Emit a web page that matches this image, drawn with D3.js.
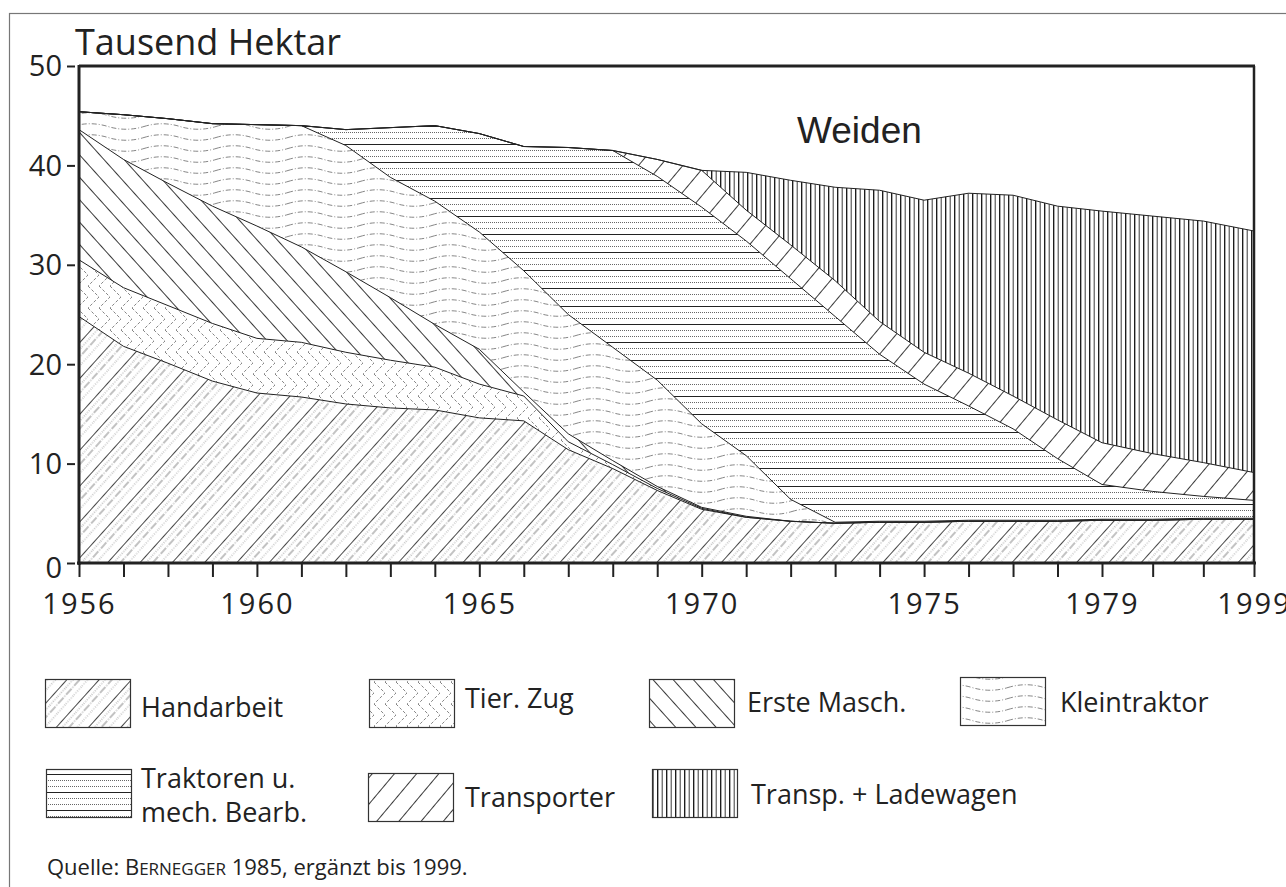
<!DOCTYPE html>
<html>
<head>
<meta charset="utf-8">
<script src="https://cdn.jsdelivr.net/npm/d3@7"></script>
<style>
  body { margin: 0; background: #fff; }
  svg { display: block; }
  text { font-family: "Open Sans", sans-serif; fill: #222; }
</style>
</head>
<body>
<script>
// periods along the x axis: yearly 1956-1979, two unlabeled steps, then 1999
var tickLabels = ["1956","","","","1960","","","","","1965","","","","","1970",
                  "","","","","1975","","","","1979","","","1999"];
var yTicks = [0, 10, 20, 30, 40, 50];

var keys = ["Handarbeit", "Tier. Zug", "Erste Masch.", "Kleintraktor",
            "Traktoren u. mech. Bearb.", "Transporter", "Transp. + Ladewagen"];

// thousand hectares
var handarbeit   = [24.8,21.8,20.1,18.3,17.1,16.7,16.0,15.6,15.4,14.6,14.3,11.4,9.5,7.3,5.4,4.6,4.2,4.0,4.1,4.1,4.2,4.2,4.2,4.3,4.3,4.4,4.4];
var tierZug      = [5.7,5.9,5.8,5.8,5.5,5.5,5.2,4.8,4.3,3.4,2.5,0.8,0.4,0.2,0.1,0,0,0,0,0,0,0,0,0,0,0,0];
var ersteMasch   = [13.1,12.9,12.3,11.8,11.3,9.6,8.1,6.3,4.3,3.5,0.4,0.8,0.4,0.2,0.1,0.1,0,0,0,0,0,0,0,0,0,0,0];
var kleintraktor = [1.8,4.5,6.5,8.3,10.2,12.2,12.7,12.1,12.4,11.8,12.2,12.0,11.4,10.7,8.4,6.1,2.2,0.1,0.1,0.1,0.1,0.1,0.1,0.1,0.1,0.1,0.1];
var traktoren    = [0,0,0,0,0,0,1.6,5.0,7.6,9.9,12.5,16.8,19.8,20.5,21.8,21.6,22.2,20.7,16.8,13.8,11.5,9.2,6.2,3.5,2.8,2.2,1.8];
var transporter  = [0,0,0,0,0,0,0,0,0,0,0,0,0,1.7,3.7,3.1,3.4,3.6,3.3,3.2,3.3,3.3,3.9,4.2,3.8,3.4,2.8];
var ladewagen    = [0,0,0,0,0,0,0,0,0,0,0,0,0,0,0,3.8,6.5,9.4,13.2,15.3,18.1,20.2,21.5,23.3,23.9,24.3,24.3];

var seriesValues = [handarbeit, tierZug, ersteMasch, kleintraktor, traktoren, transporter, ladewagen];
var patternIds = ["p-hand", "p-tier", "p-erste", "p-klein", "p-trak", "p-trans", "p-lade"];

var rows = tickLabels.map(function(l, i) {
  var r = { i: i };
  keys.forEach(function(k, j) { r[k] = seriesValues[j][i]; });
  return r;
});

var width = 1286, height = 887;
var svg = d3.select("body").append("svg")
    .attr("width", width)
    .attr("height", height);

// outer frame
svg.append("rect")
    .attr("x", 9.5).attr("y", 13.5)
    .attr("width", 1300).attr("height", 900)
    .attr("fill", "none")
    .attr("stroke", "#777")
    .attr("stroke-width", 1.2);

var x = d3.scaleLinear().domain([0, 23, 26]).range([79, 1102, 1254]);
var y = d3.scaleLinear().domain([0, 50]).range([563, 66]);

// ---- hatch patterns
var defs = svg.append("defs");

function pat(id, w, h, rot) {
  var p = defs.append("pattern")
      .attr("id", id)
      .attr("patternUnits", "userSpaceOnUse")
      .attr("width", w)
      .attr("height", h);
  if (rot) p.attr("patternTransform", "rotate(" + rot + ")");
  return p;
}
function vline(p, xx, h, col, sw, dash) {
  p.append("line").attr("x1", xx).attr("x2", xx).attr("y1", 0).attr("y2", h)
      .attr("stroke", col).attr("stroke-width", sw)
      .attr("stroke-dasharray", dash || null);
}
function hline(p, yy, w, col, sw, dash) {
  p.append("line").attr("x1", 0).attr("x2", w).attr("y1", yy).attr("y2", yy)
      .attr("stroke", col).attr("stroke-width", sw)
      .attr("stroke-dasharray", dash || null);
}

var ph = pat("p-hand", 24, 12, 42);
vline(ph, 0.5, 12, "#333", 0.9);
vline(ph, 5, 12, "#777", 0.8, "1,1.5");
vline(ph, 10, 12, "#666", 0.8, "4,1.5,1,1.5");
vline(ph, 16, 12, "#888", 0.8, "1,1.5");

// herringbone for animal traction
var pt = pat("p-tier", 22, 22, 0);
pt.append("path").attr("d", "M0,0L11,11L0,22M11,0L22,11L11,22")
    .attr("fill", "none").attr("stroke", "#666").attr("stroke-width", 0.8)
    .attr("stroke-dasharray", "3,2");

var pe = pat("p-erste", 15, 10, -42);
vline(pe, 0.5, 10, "#222", 0.9);

var pk = pat("p-klein", 72, 11, 0);
pk.append("path").attr("d", "M0,5.5Q18,0 36,5.5T72,5.5")
    .attr("fill", "none").attr("stroke", "#666").attr("stroke-width", 0.8)
    .attr("stroke-dasharray", "5,2,1,2");

var pr = pat("p-trak", 10, 18, 0);
hline(pr, 0.5, 10, "#222", 1);
hline(pr, 6.5, 10, "#555", 0.9, "1,1");
hline(pr, 12.5, 10, "#555", 0.9, "1,1");

var pp = pat("p-trans", 17, 10, 40);
vline(pp, 0.5, 10, "#222", 0.9);

var pl = pat("p-lade", 9, 10, 0);
vline(pl, 0.7, 10, "#111", 1.3);
vline(pl, 5.2, 10, "#222", 0.9);

// ---- stacked areas
var stack = d3.stack().keys(keys)(rows);

var area = d3.area()
    .x(function(d) { return x(d.data.i); })
    .y0(function(d) { return y(d[0]); })
    .y1(function(d) { return y(d[1]); });

var line = d3.line()
    .x(function(d) { return x(d.data.i); })
    .y(function(d) { return y(d[1]); });

svg.append("g").selectAll("path")
  .data(stack)
  .enter().append("path")
    .attr("d", area)
    .attr("fill", function(d, i) { return "url(#" + patternIds[i] + ")"; });

svg.append("g").selectAll("path")
  .data(stack)
  .enter().append("path")
    .attr("d", line)
    .attr("fill", "none")
    .attr("stroke", "#222")
    .attr("stroke-width", 1);

// ---- frame of the plot
svg.append("line").attr("x1", 79).attr("x2", 1255).attr("y1", 66).attr("y2", 66)
    .attr("stroke", "#222").attr("stroke-width", 3);
svg.append("line").attr("x1", 1254).attr("x2", 1254).attr("y1", 66).attr("y2", 564)
    .attr("stroke", "#222").attr("stroke-width", 2.5);
svg.append("line").attr("x1", 79).attr("x2", 79).attr("y1", 65).attr("y2", 565)
    .attr("stroke", "#222").attr("stroke-width", 3);
svg.append("line").attr("x1", 77).attr("x2", 1256).attr("y1", 563).attr("y2", 563)
    .attr("stroke", "#222").attr("stroke-width", 3);

// ---- axes
var yAxis = svg.append("g")
    .attr("transform", "translate(75,0)")
    .call(d3.axisLeft(y).tickValues(yTicks).tickSize(8).tickPadding(5).tickSizeOuter(0));
yAxis.select(".domain").remove();
yAxis.selectAll(".tick line").attr("stroke", "#222").attr("stroke-width", 2);
yAxis.selectAll(".tick text")
    .style("font-family", "'Open Sans', sans-serif")
    .style("font-size", "29px")
    .attr("fill", "#222")
    .attr("dy", function(d) { return d === 0 ? "0.5em" : "0.34em"; });

var xAxis = svg.append("g")
    .attr("transform", "translate(0,564)")
    .call(d3.axisBottom(x).tickValues(d3.range(tickLabels.length))
      .tickFormat(function(i) { return tickLabels[i]; })
      .tickSize(13).tickPadding(16).tickSizeOuter(0));
xAxis.select(".domain").remove();
xAxis.selectAll(".tick line").attr("stroke", "#222").attr("stroke-width", 2);
xAxis.selectAll(".tick text")
    .style("font-family", "'Open Sans', sans-serif")
    .style("font-size", "29px")
    .style("letter-spacing", "2px")
    .attr("fill", "#222");

// ---- titles
svg.append("text")
    .attr("x", 75).attr("y", 55)
    .style("font-size", "36px")
    .text("Tausend Hektar");

svg.append("text")
    .attr("x", 797).attr("y", 143)
    .style("font-family", "'Liberation Sans', Arial, sans-serif")
    .style("font-size", "37px")
    .text("Weiden");

// ---- legend
var legend = [
  { k: 0, sx: 45,  sy: 679, lines: ["Handarbeit"], tx: 141, ty: [717] },
  { k: 1, sx: 369, sy: 679, lines: ["Tier. Zug"], tx: 465, ty: [708] },
  { k: 2, sx: 649, sy: 679, lines: ["Erste Masch."], tx: 747, ty: [712] },
  { k: 3, sx: 960, sy: 677, lines: ["Kleintraktor"], tx: 1060, ty: [712] },
  { k: 4, sx: 46,  sy: 769, lines: ["Traktoren u.", "mech. Bearb."], tx: 141, ty: [788, 822] },
  { k: 5, sx: 368, sy: 773, lines: ["Transporter"], tx: 465, ty: [807] },
  { k: 6, sx: 652, sy: 769, lines: ["Transp. + Ladewagen"], tx: 751, ty: [804] }
];

var lg = svg.append("g").selectAll("g")
  .data(legend)
  .enter().append("g");

lg.append("rect")
    .attr("x", function(d) { return d.sx + 0.5; })
    .attr("y", function(d) { return d.sy + 0.5; })
    .attr("width", 85).attr("height", 48)
    .attr("fill", function(d) { return "url(#" + patternIds[d.k] + ")"; })
    .attr("stroke", "#333")
    .attr("stroke-width", 1.2);

lg.each(function(d) {
  var g = d3.select(this);
  d.lines.forEach(function(t, j) {
    g.append("text")
        .attr("x", d.tx).attr("y", d.ty[j])
        .style("font-size", "27px")
        .text(t);
  });
});

// ---- source
var src = svg.append("text")
    .attr("x", 47).attr("y", 875)
    .style("font-size", "22px");
src.append("tspan").text("Quelle: B");
src.append("tspan").style("font-size", "17px").text("ERNEGGER");
src.append("tspan").text(" 1985, ergänzt bis 1999.");
</script>
</body>
</html>
